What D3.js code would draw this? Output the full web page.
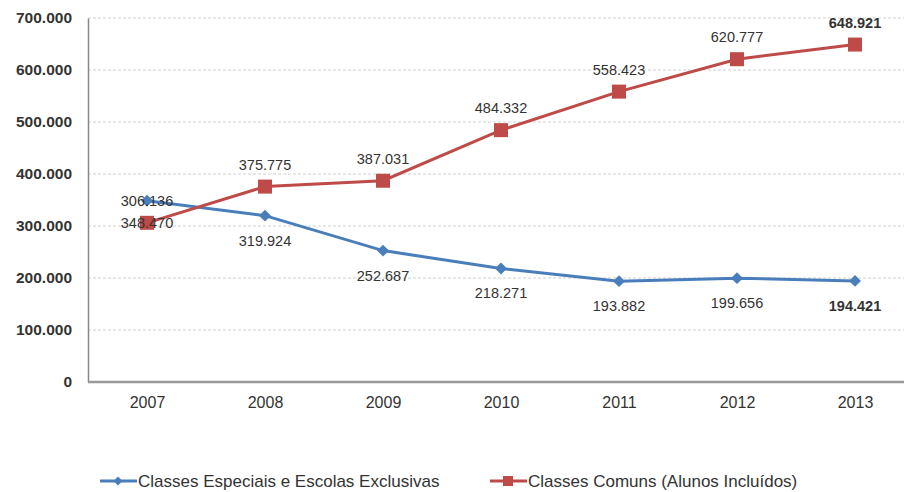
<!DOCTYPE html>
<html>
<head>
<meta charset="utf-8">
<script src="https://cdn.jsdelivr.net/npm/d3@7"></script>
<style>
  body { margin: 0; background: #fff; }
  svg { display: block; font-family: "Liberation Sans", Arial, sans-serif; }
</style>
</head>
<body>
<div id="chart"></div>
<script>
// Data
const years = ['2007', '2008', '2009', '2010', '2011', '2012', '2013'];
const especiais = [348470, 319924, 252687, 218271, 193882, 199656, 194421];
const comuns = [306136, 375775, 387031, 484332, 558423, 620777, 648921];
const yTicks = [0, 100000, 200000, 300000, 400000, 500000, 600000, 700000];
const seriesNames = ['Classes Especiais e Escolas Exclusivas', 'Classes Comuns (Alunos Incluídos)'];

const width = 904, height = 492;
const blue = '#4a7ebb', red = '#be4b48';

// pt-BR style number format: 648.921
const fmt = d => d === 0 ? '0' : d3.format(',')(d).replace(/,/g, '.');

const svg = d3.select('#chart').append('svg')
    .attr('width', width)
    .attr('height', height);

const x = d3.scalePoint()
    .domain(years)
    .range([88, 914])
    .padding(0.5);

const y = d3.scaleLinear()
    .domain([0, 700000])
    .range([382, 18]);

// Gridlines
svg.append('g')
    .selectAll('line')
    .data(yTicks.slice(1))
    .join('line')
    .attr('x1', 88).attr('x2', width)
    .attr('y1', d => y(d)).attr('y2', d => y(d))
    .attr('stroke', '#d0d0d0')
    .attr('stroke-dasharray', '3,2');

// Y axis
const yAxis = svg.append('g')
    .attr('transform', 'translate(88,0)')
    .call(d3.axisLeft(y).tickValues(yTicks).tickSize(0).tickPadding(16)
        .tickFormat(fmt));
yAxis.select('.domain').attr('stroke', '#888').attr('stroke-width', 1.5);
yAxis.selectAll('text')
    .attr('fill', '#333')
    .style('font-size', '15.5px')
    .style('font-weight', 'bold');

// X axis
const xAxis = svg.append('g')
    .attr('transform', 'translate(0,382)')
    .call(d3.axisBottom(x).tickSize(0).tickPadding(15));
xAxis.select('.domain').attr('d', `M88,0H${width}`).attr('stroke', '#999').attr('stroke-width', 2.5);
xAxis.selectAll('text')
    .attr('fill', '#333')
    .style('font-size', '16px');

const line = d3.line()
    .x((d, i) => x(years[i]))
    .y(d => y(d));

// Blue series
svg.append('path')
    .datum(especiais)
    .attr('d', line)
    .attr('fill', 'none')
    .attr('stroke', blue)
    .attr('stroke-width', 3);

svg.append('g')
    .selectAll('path')
    .data(especiais)
    .join('path')
    .attr('d', d3.symbol().type(d3.symbolDiamond2).size(90))
    .attr('transform', (d, i) => `translate(${x(years[i])},${y(d)})`)
    .attr('fill', blue);

// Red series
svg.append('path')
    .datum(comuns)
    .attr('d', line)
    .attr('fill', 'none')
    .attr('stroke', red)
    .attr('stroke-width', 3);

svg.append('g')
    .selectAll('rect')
    .data(comuns)
    .join('rect')
    .attr('x', (d, i) => x(years[i]) - 7)
    .attr('y', d => y(d) - 7)
    .attr('width', 14)
    .attr('height', 14)
    .attr('fill', red);

// Data labels: red above, blue below; first year labels sit on the other series' marker
const labels = svg.append('g')
    .style('font-size', '14.5px')
    .attr('fill', '#333')
    .attr('text-anchor', 'middle');

labels.selectAll('text.blue')
    .data(especiais)
    .join('text')
    .attr('class', 'blue')
    .attr('x', (d, i) => x(years[i]))
    .attr('y', (d, i) => i === 0 ? y(comuns[0]) + 5 : y(d) + 30)
    .style('font-weight', (d, i) => i === years.length - 1 ? 'bold' : null)
    .text(d => fmt(d));

labels.selectAll('text.red')
    .data(comuns)
    .join('text')
    .attr('class', 'red')
    .attr('x', (d, i) => x(years[i]))
    .attr('y', (d, i) => i === 0 ? y(especiais[0]) + 5 : y(d) - 17)
    .style('font-weight', (d, i) => i === years.length - 1 ? 'bold' : null)
    .text(d => fmt(d));

// Legend
const legend = svg.append('g').attr('transform', 'translate(0,481)');
const legendItems = [
    { name: seriesNames[0], color: blue, x: 100, shape: 'diamond' },
    { name: seriesNames[1], color: red, x: 490, shape: 'square' }
];
legendItems.forEach(item => {
    const g = legend.append('g').attr('transform', `translate(${item.x},0)`);
    g.append('line')
        .attr('x1', 0).attr('x2', 37)
        .attr('stroke', item.color)
        .attr('stroke-width', 3);
    if (item.shape === 'diamond') {
        g.append('path')
            .attr('d', d3.symbol().type(d3.symbolDiamond2).size(50))
            .attr('transform', 'translate(18,0)')
            .attr('fill', item.color);
    } else {
        g.append('rect')
            .attr('x', 13).attr('y', -5).attr('width', 10).attr('height', 10)
            .attr('fill', item.color);
    }
    g.append('text')
        .attr('x', 38)
        .attr('y', 6)
        .attr('fill', '#333')
        .style('font-size', '17px')
        .text(item.name);
});
</script>
</body>
</html>
